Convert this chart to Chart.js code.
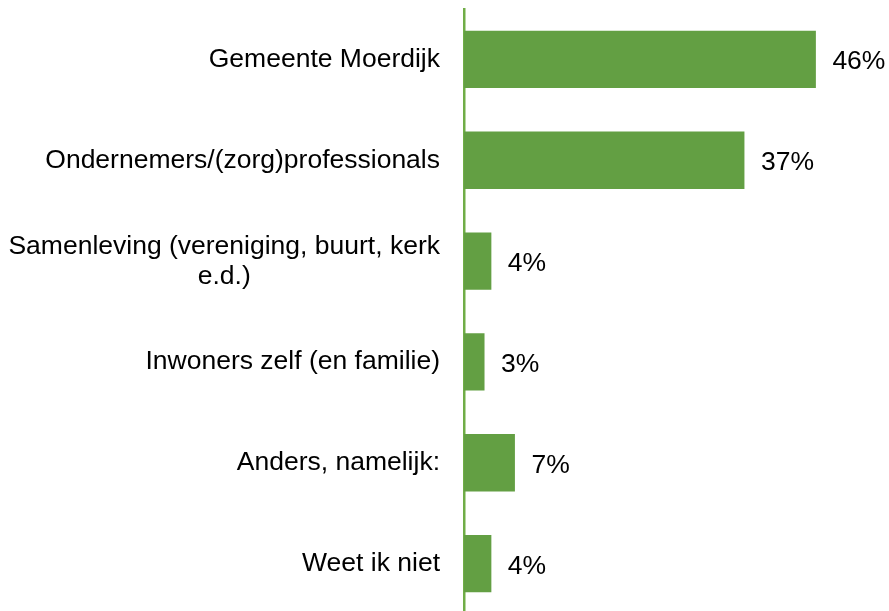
<!DOCTYPE html>
<html>
<head>
<meta charset="utf-8">
<script src="https://cdn.jsdelivr.net/npm/chart.js@4/dist/chart.umd.min.js"></script>
<style>
  html, body { margin: 0; padding: 0; background: #fff; overflow: hidden; width: 889px; height: 611px; }
  #wrap { position: relative; width: 889px; height: 614px; }
</style>
</head>
<body>
<div id="wrap"><canvas id="c"></canvas></div>
<script>
const categories = [
  ["Gemeente Moerdijk"],
  ["Ondernemers/(zorg)professionals"],
  ["Samenleving (vereniging, buurt, kerk", "e.d.)"],
  ["Inwoners zelf (en familie)"],
  ["Anders, namelijk:"],
  ["Weet ik niet"]
];
const values = [46.3, 36.9, 3.6, 2.7, 6.7, 3.6];
const valueLabels = ["46%", "37%", "4%", "3%", "7%", "4%"];

const FONT = '"Liberation Sans", Arial, sans-serif';

const labelPlugin = {
  id: 'labels',
  afterDraw(chart) {
    const ctx = chart.ctx;
    const y = chart.scales.y;
    const meta = chart.getDatasetMeta(0);
    ctx.save();
    ctx.fillStyle = '#000';
    ctx.font = '26.5px ' + FONT;
    ctx.textBaseline = 'alphabetic';
    categories.forEach((lines, i) => {
      const cy = y.getPixelForValue(i);
      const widths = lines.map(l => ctx.measureText(l).width);
      const w = Math.max(...widths);
      const right = 440;
      const n = lines.length;
      ctx.textAlign = 'center';
      lines.forEach((l, k) => {
        const by = cy + 7.5 + (k - (n - 1) / 2) * 30;
        ctx.fillText(l, right - w / 2, by);
      });
      const bar = meta.data[i];
      ctx.textAlign = 'left';
      ctx.fillText(valueLabels[i], bar.x + 16.5, cy + 10);
    });
    ctx.restore();
  }
};

new Chart(document.getElementById('c'), {
  type: 'bar',
  data: {
    labels: categories,
    datasets: [{
      data: values,
      backgroundColor: '#639F43',
      borderWidth: 0,
      categoryPercentage: 1,
      barPercentage: 0.568
    }]
  },
  options: {
    indexAxis: 'y',
    responsive: true,
    maintainAspectRatio: false,
    animation: false,
    layout: { padding: { top: 9, right: 45, bottom: 0, left: 0 } },
    plugins: { legend: { display: false }, tooltip: { enabled: false } },
    scales: {
      x: { display: false, min: 0, max: 50 },
      y: {
        ticks: { display: false },
        grid: { display: false, drawTicks: false },
        border: { display: true, color: '#70AD47', width: 2.5 },
        afterFit(scale) { scale.width = 464; }
      }
    }
  },
  plugins: [labelPlugin]
});
</script>
</body>
</html>
